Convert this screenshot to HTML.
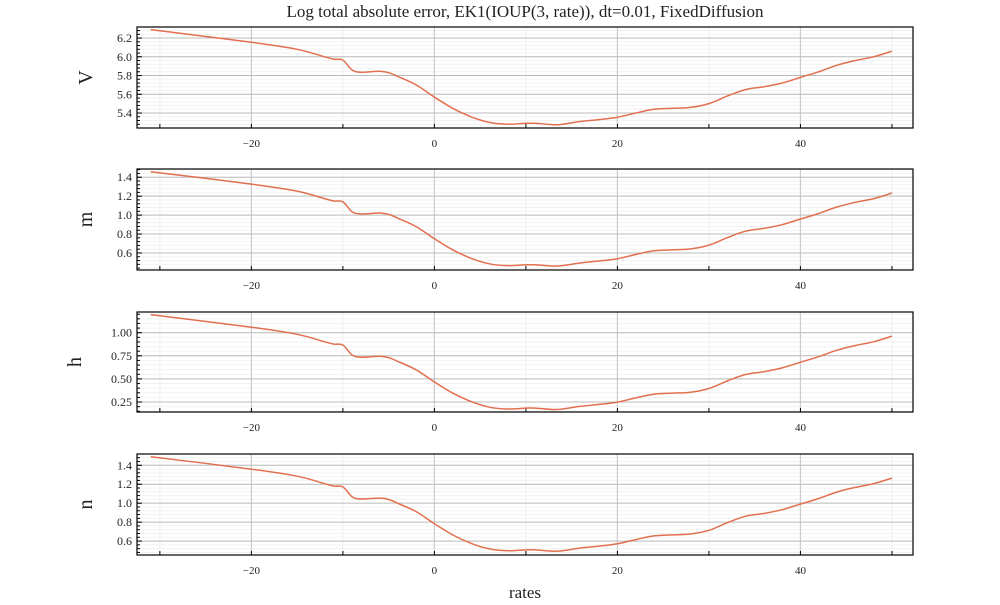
<!DOCTYPE html>
<html><head><meta charset="utf-8"><style>
body{margin:0;background:#fff;}
svg text{font-family:"Liberation Serif",serif;fill:#222;}
</style></head><body>
<svg id="chart" width="1000" height="600" xmlns="http://www.w3.org/2000/svg">
<text x="525" y="17" text-anchor="middle" font-size="17">Log total absolute error, EK1(IOUP(3, rate)), dt=0.01, FixedDiffusion</text>
<text x="525" y="598" text-anchor="middle" font-size="17">rates</text>
</svg>
<script>
const rates=[-31,-20,-15,-12,-11,-10,-9,-8,-6,-5,-4,-2,0,2,4,6,8,10,11,13,14,16,18,20,22,24,26,28,30,32,34,36,38,40,42,44,46,48,50];
const valsV=[6.29,6.155,6.08,6.0,5.975,5.965,5.86,5.835,5.845,5.83,5.79,5.70,5.57,5.45,5.36,5.30,5.28,5.29,5.29,5.275,5.28,5.31,5.33,5.355,5.40,5.44,5.45,5.46,5.50,5.58,5.65,5.68,5.72,5.78,5.84,5.91,5.96,6.0,6.06];
const valsM=[1.459,1.327,1.253,1.174,1.149,1.140,1.036,1.012,1.022,1.007,0.967,0.879,0.751,0.633,0.544,0.485,0.466,0.475,0.475,0.461,0.466,0.495,0.515,0.539,0.584,0.623,0.633,0.643,0.682,0.761,0.830,0.859,0.899,0.958,1.017,1.086,1.135,1.174,1.233];
const valsH=[1.196,1.059,0.983,0.902,0.877,0.867,0.760,0.735,0.745,0.730,0.690,0.599,0.467,0.346,0.255,0.194,0.174,0.184,0.184,0.169,0.174,0.204,0.224,0.249,0.295,0.335,0.346,0.356,0.396,0.477,0.548,0.578,0.619,0.680,0.740,0.811,0.862,0.902,0.963];
const valsN=[1.491,1.359,1.285,1.206,1.181,1.172,1.068,1.044,1.054,1.039,0.999,0.911,0.783,0.665,0.576,0.517,0.498,0.507,0.507,0.493,0.498,0.527,0.547,0.571,0.616,0.655,0.665,0.675,0.714,0.793,0.862,0.891,0.931,0.990,1.049,1.118,1.167,1.206,1.265];
const xTicks=[-20,0,20,40];
const ticksV=[5.4,5.6,5.8,6.0,6.2];
const ticksM=[0.6,0.8,1.0,1.2,1.4];
const ticksH=[0.25,0.5,0.75,1.0];
const ticksN=[0.6,0.8,1.0,1.2,1.4];
const labelsH=["0.25","0.50","0.75","1.00"];

const NS="http://www.w3.org/2000/svg";
const svg=document.getElementById('chart');
const L=137,R=913,xmin=-32.5,xmax=52.3;
const sx=v=>L+(v-xmin)/(xmax-xmin)*(R-L);
function mk(t,a,p){const e=document.createElementNS(NS,t);for(const k in a)e.setAttribute(k,a[k]);(p||svg).appendChild(e);return e;}
function smooth(pts){
 let d='M'+pts[0][0].toFixed(1)+','+pts[0][1].toFixed(1);
 for(let i=0;i<pts.length-1;i++){
  const p0=pts[i-1]||pts[i],p1=pts[i],p2=pts[i+1],p3=pts[i+2]||p2;
  const c1=[p1[0]+(p2[0]-p0[0])/6,p1[1]+(p2[1]-p0[1])/6];
  const c2=[p2[0]-(p3[0]-p1[0])/6,p2[1]-(p3[1]-p1[1])/6];
  d+=' C'+c1[0].toFixed(1)+','+c1[1].toFixed(1)+' '+c2[0].toFixed(1)+','+c2[1].toFixed(1)+' '+p2[0].toFixed(1)+','+p2[1].toFixed(1);
 }
 return d;
}
const panels=[
 {name:'V',vals:valsV,ticks:ticksV,labels:null,top:27,bot:128,ymin:5.24,ymax:6.318,minor:0.04},
 {name:'m',vals:valsM,ticks:ticksM,labels:null,top:169,bot:270,ymin:0.42,ymax:1.487,minor:0.04},
 {name:'h',vals:valsH,ticks:ticksH,labels:labelsH,top:312,bot:412,ymin:0.142,ymax:1.224,minor:0.05},
 {name:'n',vals:valsN,ticks:ticksN,labels:null,top:454,bot:555,ymin:0.453,ymax:1.519,minor:0.04}
];
panels.forEach(p=>{
 const sy=v=>p.bot-(v-p.ymin)/(p.ymax-p.ymin)*(p.bot-p.top);
 const g=mk('g',{});
 
 
 for(let x=-30;x<=50;x+=10){mk('line',{x1:sx(x),x2:sx(x),y1:p.top,y2:p.bot,stroke:'#eee','stroke-width':1},g);}
 for(let y=Math.ceil(p.ymin/p.minor)*p.minor;y<p.ymax;y+=p.minor){mk('line',{x1:L,x2:R,y1:sy(y),y2:sy(y),stroke:'#f2f2f2','stroke-width':1},g);
  mk('line',{x1:L,x2:L+3,y1:sy(y),y2:sy(y),stroke:'#000','stroke-width':1},g);}
 xTicks.forEach(x=>{mk('line',{x1:sx(x),x2:sx(x),y1:p.top,y2:p.bot,stroke:'#ccc','stroke-width':1.2},g);
  const t=mk('text',{x:sx(x),y:p.bot+19,'text-anchor':'middle','font-size':11},g);t.textContent=(x<0?'\u2212'+(-x):x);
  
  });
 for(let x=-30;x<=50;x+=10){mk('line',{x1:sx(x),x2:sx(x),y1:p.bot,y2:p.bot-4,stroke:'#000','stroke-width':1},g);}
 p.ticks.forEach((y,i)=>{mk('line',{x1:L,x2:R,y1:sy(y),y2:sy(y),stroke:'#bbb','stroke-width':1},g);
  mk('line',{x1:L,x2:L+5,y1:sy(y),y2:sy(y),stroke:'#000','stroke-width':1},g);
  const t=mk('text',{x:L-5,y:sy(y)+4,'text-anchor':'end','font-size':12},g);t.textContent=p.labels?p.labels[i]:y.toFixed(1);
  
  });
 const fr=mk('rect',{x:L,y:p.top,width:R-L,height:p.bot-p.top,fill:'none',stroke:'#000','stroke-width':1.2},g);
 
 
 const pts=p.vals.map((v,i)=>[sx(rates[i]),sy(v)]);
 const path=mk('path',{d:smooth(pts),fill:'none',stroke:'#e26f4f','stroke-width':1.5,'stroke-linejoin':'round'},g);
 
 
 const yl=mk('text',{x:0,y:0,'text-anchor':'middle','font-size':20,transform:`translate(${p.name==='h'?81:92},${(p.top+p.bot)/2}) rotate(-90)`},g);
 yl.textContent=p.name;
 
 
});
</script>
</body></html>
